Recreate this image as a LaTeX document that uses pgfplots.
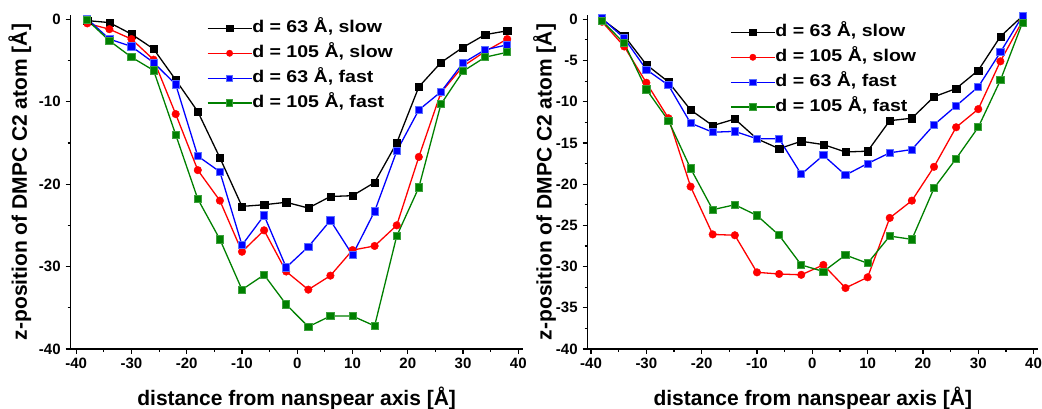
\documentclass[border=0pt]{standalone}
\usepackage{fontspec}
\setmainfont{Liberation Sans}
\newfontfamily\legfont{Liberation Sans}[FakeStretch=1.15]
\newcommand\tl[1]{{\fontsize{15}{15}\selectfont\bfseries #1}}
\usepackage{pgfplots}
\pgfplotsset{compat=1.18}
\definecolor{ogreen}{RGB}{0,128,0}
\definecolor{lblue}{RGB}{90,110,255}
\definecolor{lgreen}{RGB}{60,160,60}
\pgfplotsset{
  originax/.style={
    scale only axis, height=334pt,
    axis x line*=bottom, axis y line*=left,
    axis line style={line width=1.3pt, -},
    tick align=outside,
    major tick length=5pt, minor tick length=3pt,
    every tick/.style={line width=1.2pt, black},
    minor x tick num=1, minor y tick num=1,
    xtick={-40,-30,...,40},
    xticklabels={\tl{-40},\tl{-30},\tl{-20},\tl{-10},\tl{0},\tl{10},\tl{20},\tl{30},\tl{40}},
    ymin=-40, ymax=0.52,
    clip=false,
    tick label style={font=\fontsize{15}{15}\selectfont\bfseries},
    yticklabel style={xshift=-1.5pt},
    label style={font=\fontsize{21}{21}\selectfont\bfseries},
    xlabel={distance from nanspear axis [Å]},
    ylabel={z-position of DMPC C2 atom [Å]},
    xlabel style={at={(axis description cs:0.5,-0.1677)}, anchor=base},
    legend cell align=left,
    legend image code/.code={\draw[mark repeat=2,mark phase=2,mark size=3.2pt] plot coordinates {(0pt,0pt) (22pt,0pt) (44pt,0pt)};},
    legend style={draw=none, fill=none, inner sep=0pt, row sep=7.9pt,
      font=\fontsize{17}{17}\selectfont\legfont\bfseries,
      nodes={inner sep=0pt, text height=13pt, text depth=4pt},
      /tikz/every even column/.append style={column sep=5pt}},
  },
  sA/.style={black, line width=1.3pt, mark=square*, mark size=3.6pt, mark options={solid, line width=0.4pt}},
  sB/.style={red, line width=1.3pt, mark=*, mark size=3.8pt, mark options={solid, line width=0.4pt}},
  sC/.style={blue, line width=1.3pt, mark=square*, mark size=3.6pt, mark options={solid, draw=lblue, line width=0.8pt}},
  sD/.style={ogreen, line width=1.3pt, mark=square*, mark size=3.6pt, mark options={solid, draw=lgreen, line width=0.8pt}},
}
\begin{document}
\begin{tikzpicture}[x=1pt,y=1pt]
\useasboundingbox (0,0) rectangle (1042,409);
\begin{axis}[originax, at={(70.7pt,60pt)}, anchor=south west, width=452pt,
  xmin=-41, xmax=40.8, ytick={-40,-30,...,0},
  yticklabels={\tl{-40},\tl{-30},\tl{-20},\tl{-10},\tl{0}},
  ylabel style={at={(axis description cs:-0.097,0.5)}, anchor=base},
  legend style={at={(axis description cs:0.301,0.986)}, anchor=north west}]
\addplot[sA] coordinates {(-38,-0.16) (-34,-0.4) (-30,-1.8) (-26,-3.6) (-22,-7.35) (-18,-11.2) (-14,-16.8) (-10,-22.7) (-6,-22.5) (-2,-22.2) (2,-22.9) (6,-21.5) (10,-21.4) (14,-19.8) (18,-15.0) (22,-8.2) (26,-5.25) (30,-3.4) (34,-1.86) (38,-1.4)};
\addlegendentry{d = 63 Å, slow}
\addplot[sB] coordinates {(-38,-0.5) (-34,-1.2) (-30,-2.4) (-26,-4.9) (-22,-11.5) (-18,-18.3) (-14,-22.0) (-10,-28.2) (-6,-25.6) (-2,-30.6) (2,-32.8) (6,-31.1) (10,-28.0) (14,-27.5) (18,-25.0) (22,-16.7) (26,-8.9) (30,-5.7) (34,-3.9) (38,-2.4)};
\addlegendentry{d = 105 Å, slow}
\addplot[sC] coordinates {(-38,0.05) (-34,-2.4) (-30,-3.3) (-26,-5.25) (-22,-7.9) (-18,-16.6) (-14,-18.5) (-10,-27.4) (-6,-23.8) (-2,-30.1) (2,-27.6) (6,-24.4) (10,-28.6) (14,-23.3) (18,-16.0) (22,-11.0) (26,-8.8) (30,-5.3) (34,-3.7) (38,-3.1)};
\addlegendentry{d = 63 Å, fast}
\addplot[sD] coordinates {(-38,-0.1) (-34,-2.6) (-30,-4.6) (-26,-6.2) (-22,-14.0) (-18,-21.8) (-14,-26.7) (-10,-32.8) (-6,-31.0) (-2,-34.6) (2,-37.3) (6,-36.0) (10,-36.0) (14,-37.2) (18,-26.3) (22,-20.4) (26,-10.3) (30,-6.3) (34,-4.6) (38,-4.0)};
\addlegendentry{d = 105 Å, fast}
\end{axis}
\begin{axis}[originax, at={(587.7pt,60pt)}, anchor=south west, width=450.3pt,
  xmin=-40.6, xmax=40.8, ytick={-40,-35,...,0},
  yticklabels={\tl{-40},\tl{-35},\tl{-30},\tl{-25},\tl{-20},\tl{-15},\tl{-10},\tl{-5},\tl{0}},
  ylabel style={at={(axis description cs:-0.080,0.5)}, anchor=base},
  legend style={at={(axis description cs:0.316,0.974)}, anchor=north west}]
\addplot[sA] coordinates {(-38,0) (-34,-2.0) (-30,-5.5) (-26,-7.6) (-22,-11.0) (-18,-12.9) (-14,-12.1) (-10,-14.5) (-6,-15.7) (-2,-14.8) (2,-15.2) (6,-16.1) (10,-16.0) (14,-12.3) (18,-12.0) (22,-9.4) (26,-8.4) (30,-6.2) (34,-2.1) (38,0.4)};
\addlegendentry{d = 63 Å, slow}
\addplot[sB] coordinates {(-38,-0.3) (-34,-3.3) (-30,-7.7) (-26,-12.0) (-22,-20.3) (-18,-26.1) (-14,-26.2) (-10,-30.7) (-6,-30.9) (-2,-31.0) (2,-29.8) (6,-32.6) (10,-31.3) (14,-24.1) (18,-22.0) (22,-17.9) (26,-13.1) (30,-10.9) (34,-5.1) (38,-0.2)};
\addlegendentry{d = 105 Å, slow}
\addplot[sC] coordinates {(-38,0.1) (-34,-2.3) (-30,-6.1) (-26,-8.0) (-22,-12.6) (-18,-13.7) (-14,-13.6) (-10,-14.5) (-6,-14.5) (-2,-18.8) (2,-16.5) (6,-18.9) (10,-17.5) (14,-16.2) (18,-15.8) (22,-12.8) (26,-10.5) (30,-8.2) (34,-4.0) (38,0.4)};
\addlegendentry{d = 63 Å, fast}
\addplot[sD] coordinates {(-38,-0.2) (-34,-2.9) (-30,-8.5) (-26,-12.3) (-22,-18.1) (-18,-23.1) (-14,-22.5) (-10,-23.8) (-6,-26.2) (-2,-29.8) (2,-30.6) (6,-28.6) (10,-29.6) (14,-26.3) (18,-26.7) (22,-20.5) (26,-16.9) (30,-13.1) (34,-7.4) (38,-0.4)};
\addlegendentry{d = 105 Å, fast}
\end{axis}
\end{tikzpicture}
\end{document}
